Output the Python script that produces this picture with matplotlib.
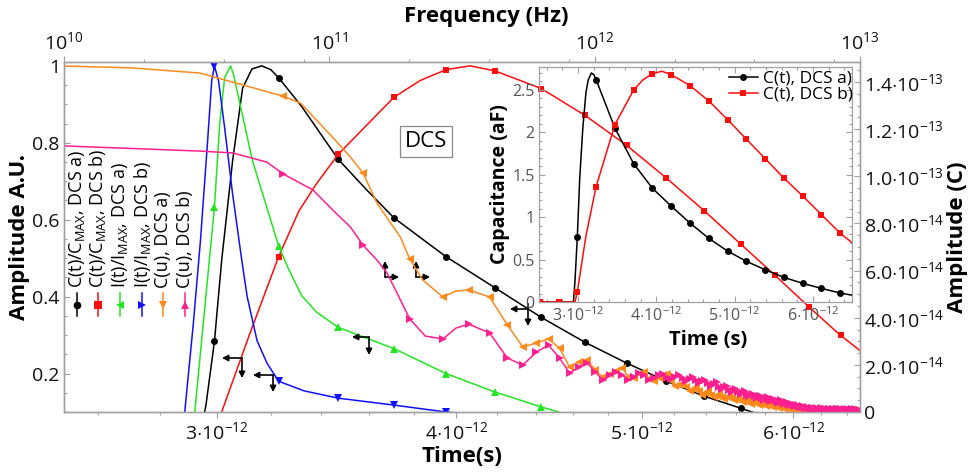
import numpy as np
import matplotlib
matplotlib.use('Agg')
import matplotlib.pyplot as plt
from matplotlib.ticker import FixedLocator, FixedFormatter, NullFormatter, MultipleLocator

# =========================================
# fonts
# =========================================
plt.rcParams['font.family'] = ['Open Sans', 'DejaVu Sans']
plt.rcParams['mathtext.fontset'] = 'custom'
plt.rcParams['mathtext.rm'] = 'Open Sans'
plt.rcParams['mathtext.it'] = 'Open Sans:italic'
plt.rcParams['mathtext.bf'] = 'Open Sans:bold'

# =========================================
# data (time in ps, freq in Hz, charge in 1e-14 C)
# =========================================

# sample times with markers
t_grid = [2.51, 2.75, 2.99, 3.23, 3.47, 3.71, 3.95, 4.19, 4.43, 4.67,
          4.91, 5.15, 5.39, 5.63, 5.87, 6.11, 6.35]

# C(t)/Cmax DCS a) (black)
blk_y = [0.0, 0.0, 0.284, 0.969, 0.757, 0.605, 0.504, 0.423, 0.346, 0.281,
         0.227, 0.18, 0.141, 0.11, 0.08, 0.06, 0.04]
blk_tx = [2.93, 2.96, 3.016, 3.056, 3.093, 3.128, 3.165, 3.20, 3.32, 3.59]
blk_yx = [0.0, 0.12, 0.494, 0.753, 0.942, 0.992, 1.0, 0.99, 0.895, 0.678]

# C(t)/Cmax DCS b) (red)
red_y = [0.0, 0.0, 0.03, 0.504, 0.77, 0.918, 0.99, 0.987, 0.941, 0.871,
         0.793, 0.708, 0.623, 0.537, 0.455, 0.374, 0.299]
red_tx = [2.97, 3.016, 3.118, 3.31, 3.38, 3.83, 4.066, 6.5]
red_yx = [0.0, 0.1, 0.30, 0.623, 0.693, 0.962, 1.0, 0.26]

# I(t)/Imax DCS a) (green)
grn_y = [0.0, 0.0, 0.633, 0.532, 0.32, 0.265, 0.2, 0.152, 0.113, 0.08]
grn_tx = [2.90, 2.92, 2.95, 3.009, 3.027, 3.049, 3.06, 3.13, 3.27, 3.32, 3.38]
grn_yx = [0.0, 0.1, 0.33, 0.85, 0.97, 1.0, 0.975, 0.753, 0.47, 0.403, 0.36]

# I(t)/Imax DCS b) (blue)
blu_y = [0.0, 0.0, 1.0, 0.18, 0.136, 0.118, 0.1, 0.09]
blu_tx = [2.86, 2.885, 2.915, 2.94, 2.965, 2.98, 3.005, 3.027, 3.056, 3.09,
          3.11, 3.147, 3.185, 3.33]
blu_yx = [0.0, 0.1, 0.33, 0.545, 0.8, 0.96, 0.96, 0.838, 0.667, 0.494,
          0.4, 0.286, 0.227, 0.155]

# spectrum samples, step 6.7e10 Hz
f_step = 6.7e10
orange_v = [13.4, 10.14, 6.49, 4.88, 5.18, 4.88, 3.69, 2.76, 2.93, 3.10,
            2.71, 1.91, 2.12, 2.20, 1.78, 1.48, 1.62, 1.72, 1.86, 1.50,
            1.45, 1.62, 1.70, 1.42, 1.30, 1.45, 1.58, 1.62, 1.30, 1.10,
            1.15, 1.22, 1.05, 0.90, 0.98, 1.05, 0.88, 0.74, 0.82, 0.88,
            0.74, 0.62, 0.70, 0.76, 0.64, 0.55, 0.62, 0.68, 0.58, 0.50,
            0.55, 0.60, 0.50, 0.42, 0.48, 0.52, 0.44, 0.36, 0.42, 0.46,
            0.38, 0.31, 0.36, 0.40, 0.32, 0.26, 0.30, 0.33, 0.27, 0.21,
            0.25, 0.28, 0.22, 0.17, 0.21, 0.23, 0.18, 0.13, 0.16, 0.18,
            0.14, 0.10, 0.13, 0.14, 0.11, 0.08, 0.10, 0.12, 0.09, 0.07,
            0.09, 0.10, 0.07, 0.05, 0.07, 0.09, 0.06, 0.05, 0.07, 0.08,
            0.06, 0.04, 0.06, 0.08, 0.05, 0.04, 0.06, 0.07, 0.05, 0.04,
            0.05, 0.07, 0.05, 0.03, 0.05, 0.06, 0.04, 0.03, 0.05, 0.06,
            0.04, 0.03, 0.05, 0.06, 0.04, 0.03, 0.04, 0.05, 0.04, 0.03,
            0.04, 0.05, 0.03, 0.02, 0.04, 0.05, 0.03, 0.02, 0.04, 0.05,
            0.03, 0.02, 0.03, 0.04, 0.03, 0.02, 0.03, 0.04, 0.03]
pink_v = [10.1, 7.08, 3.95, 3.10, 3.73, 3.35, 2.29, 1.99, 2.55, 2.84,
          2.29, 1.65, 1.91, 2.08, 1.70, 1.36, 1.57, 1.70, 1.57, 1.36,
          1.48, 1.65, 1.55, 1.36, 1.44, 1.55, 1.60, 1.45, 1.38, 1.50,
          1.56, 1.45, 1.32, 1.40, 1.48, 1.36, 1.24, 1.30, 1.36, 1.22,
          1.12, 1.20, 1.26, 1.08, 0.98, 1.05, 1.10, 0.94, 0.86, 0.92,
          0.98, 0.84, 0.76, 0.82, 0.88, 0.74, 0.66, 0.72, 0.78, 0.66,
          0.60, 0.66, 0.70, 0.60, 0.52, 0.58, 0.62, 0.52, 0.46, 0.52,
          0.56, 0.47, 0.40, 0.46, 0.49, 0.41, 0.35, 0.40, 0.43, 0.34,
          0.29, 0.34, 0.36, 0.29, 0.24, 0.28, 0.30, 0.24, 0.20, 0.23,
          0.25, 0.20, 0.16, 0.19, 0.21, 0.17, 0.13, 0.16, 0.18, 0.14,
          0.11, 0.14, 0.16, 0.12, 0.10, 0.13, 0.15, 0.11, 0.09, 0.12,
          0.14, 0.10, 0.09, 0.12, 0.13, 0.10, 0.08, 0.11, 0.13, 0.10,
          0.08, 0.11, 0.12, 0.09, 0.08, 0.11, 0.12, 0.09, 0.07, 0.10,
          0.12, 0.09, 0.07, 0.10, 0.11, 0.08, 0.07, 0.10, 0.11, 0.08,
          0.07, 0.09, 0.11, 0.08, 0.07, 0.09, 0.10, 0.08, 0.07]
orange_fx = [1e10, 1.8e10, 3.26e10, 7.8e10, 1.03e11, 1.2e11, 1.51e11, 1.85e11, 2.25e11, 3.0e11]
orange_vx = [14.68, 14.6, 14.38, 13.1, 11.65, 10.82, 8.87, 7.43, 5.6, 5.13]
pink_fx = [1e10, 3.26e10, 4.34e10, 5.82e10, 8.68e10, 1.03e11, 1.2e11, 1.51e11, 1.65e11, 2.3e11, 3.0e11]
pink_vx = [11.29, 11.07, 10.99, 10.6, 9.42, 8.57, 7.85, 6.45, 5.9, 3.22, 3.56]

# inset: capacitance in aF
in_blk = [0.0, 0.0, 0.77, 2.62, 2.05, 1.63, 1.34, 1.13, 0.93, 0.75,
          0.60, 0.48, 0.38, 0.29, 0.22, 0.16, 0.106]
in_blk_tx = [2.5, 2.94, 2.96, 3.02, 3.06, 3.10, 3.13, 3.17, 3.20, 6.5]
in_blk_yx = [0.0, 0.0, 0.25, 1.45, 2.05, 2.47, 2.62, 2.70, 2.68, 0.08]
in_red = [0.0, 0.0, 0.12, 1.36, 2.09, 2.5, 2.69, 2.68, 2.55, 2.37,
          2.15, 1.92, 1.69, 1.46, 1.25, 1.03, 0.81]
in_red_tx = [2.5, 2.96, 3.10, 3.83, 4.07, 6.5]
in_red_yx = [0.0, 0.0, 0.78, 2.62, 2.72, 0.70]

# ticks and labels
bot_ticks = [3, 4, 5, 6]
bot_labels = [r'$3{\cdot}10^{-12}$', r'$4{\cdot}10^{-12}$', r'$5{\cdot}10^{-12}$', r'$6{\cdot}10^{-12}$']
bot_minor = [2.6, 2.8, 3.2, 3.4, 3.6, 3.8, 4.2, 4.4, 4.6, 4.8,
             5.2, 5.4, 5.6, 5.8, 6.2, 6.4]
top_ticks = [1e10, 1e11, 1e12, 1e13]
top_labels = [r'$10^{10}$', r'$10^{11}$', r'$10^{12}$', r'$10^{13}$']
top_minor = [2e10, 4e10, 8e10, 2e11, 4e11, 8e11, 2e12, 4e12, 8e12]
left_ticks = [0.2, 0.4, 0.6, 0.8, 1.0]
left_labels = ['0.2', '0.4', '0.6', '0.8', '1']
right_ticks = [0, 2, 4, 6, 8, 10, 12, 14]
right_labels = ['0', r'$2.0{\cdot}10^{-14}$', r'$4.0{\cdot}10^{-14}$', r'$6.0{\cdot}10^{-14}$',
                r'$8.0{\cdot}10^{-14}$', r'$1.0{\cdot}10^{-13}$', r'$1.2{\cdot}10^{-13}$',
                r'$1.4{\cdot}10^{-13}$']
in_yticks = [0, 0.5, 1, 1.5, 2, 2.5]
in_ylabels = ['0', '0.5', '1', '1.5', '2', '2.5']

leg_labels = [r'C(t)/C$_{\mathrm{MAX}}$, DCS a)', r'C(t)/C$_{\mathrm{MAX}}$, DCS b)',
              r'I(t)/I$_{\mathrm{MAX}}$, DCS a)', r'I(t)/I$_{\mathrm{MAX}}$, DCS b)',
              'C(u), DCS a)', 'C(u), DCS b)']

# =========================================
# style
# =========================================
c_blk, c_red, c_grn, c_blu = '#000000', '#ff0d0d', '#22e622', '#1010ff'
c_org, c_pnk = '#ff8a1c', '#ff1f8f'
frame = '#a0a0a0'
lw = 1.1


def merge(t1, y1, t2, y2):
    t = np.concatenate([np.asarray(t1, float), np.asarray(t2, float)])
    y = np.concatenate([np.asarray(y1, float), np.asarray(y2, float)])
    o = np.argsort(t, kind='stable')
    return t[o], y[o]


def curve(axis, tm, ym, tx, yx, color, marker, ms):
    tl, yl = merge(tm, ym, tx, yx)
    axis.plot(tl, yl, color=color, lw=lw)
    axis.plot(tm, ym, ls='none', marker=marker, color=color, ms=ms, mew=0)


# =========================================
# figure
# =========================================
fig = plt.figure(figsize=(9.71, 4.72), dpi=100)
ax = fig.add_axes([64 / 971, 60 / 472, 796 / 971, 350 / 472])
ax_r = ax.twinx()
ax_f = ax_r.twiny()

# time domain curves
curve(ax, t_grid, blk_y, blk_tx, blk_yx, c_blk, 'o', 5)
curve(ax, t_grid, red_y, red_tx, red_yx, c_red, 's', 5)
curve(ax, t_grid[:len(grn_y)], grn_y, grn_tx, grn_yx, c_grn, '^', 5.5)
curve(ax, t_grid[:len(blu_y)], blu_y, blu_tx, blu_yx, c_blu, 'v', 5.5)

# frequency domain curves
freq = f_step * np.arange(1, len(orange_v) + 1)
curve(ax_f, freq, orange_v, orange_fx, orange_vx, c_org, '<', 5.5)
curve(ax_f, freq, pink_v, pink_fx, pink_vx, c_pnk, '>', 5.5)

# axes limits / scales
ax.set_xscale('log')
ax.set_xlim(2.495, 6.5)
ax.set_ylim(0.1, 1.01)
ax_f.set_xscale('log')
ax_f.set_xlim(1e10, 1e13)
ax_r.set_ylim(0, 14.85)

ax.xaxis.set_major_locator(FixedLocator(bot_ticks))
ax.xaxis.set_major_formatter(FixedFormatter(bot_labels))
ax.xaxis.set_minor_locator(FixedLocator(bot_minor))
ax.xaxis.set_minor_formatter(NullFormatter())
ax.yaxis.set_major_locator(FixedLocator(left_ticks))
ax.yaxis.set_major_formatter(FixedFormatter(left_labels))
ax.yaxis.set_minor_locator(MultipleLocator(0.05))

ax_f.xaxis.set_major_locator(FixedLocator(top_ticks))
ax_f.xaxis.set_major_formatter(FixedFormatter(top_labels))
ax_f.xaxis.set_minor_locator(FixedLocator(top_minor))
ax_f.xaxis.set_minor_formatter(NullFormatter())
ax_r.yaxis.set_major_locator(FixedLocator(right_ticks))
ax_r.yaxis.set_major_formatter(FixedFormatter(right_labels))
ax_r.yaxis.set_minor_locator(MultipleLocator(0.5))

ax.tick_params(axis='x', which='both', direction='out', colors=frame, labelcolor='#111', labelsize=14, pad=2)
ax.tick_params(axis='y', which='both', direction='in', colors=frame, labelcolor='#111', labelsize=14, pad=3)
ax_r.tick_params(axis='y', which='both', direction='in', colors=frame, labelcolor='#111', labelsize=14, pad=3)
ax_f.tick_params(axis='x', which='both', direction='out', colors=frame, labelcolor='#111', labelsize=14, pad=2)
for a in (ax, ax_r, ax_f):
    a.tick_params(which='major', length=4.5, width=0.8)
    a.tick_params(which='minor', length=2.5, width=0.8)
    for s in a.spines.values():
        s.set_color(frame)
        s.set_linewidth(0.9)

ax.set_xlabel('Time(s)', fontsize=16, fontweight='bold', labelpad=2)
ax.set_ylabel('Amplitude A.U.', fontsize=16, fontweight='bold', labelpad=2)
ax_r.set_ylabel('Amplitude (C)', fontsize=16, fontweight='bold', labelpad=2)
ax_f.set_xlabel('Frequency (Hz)', fontsize=16, fontweight='bold', labelpad=4)
ax_f.xaxis.set_label_coords(0.531, 1.115)

# DCS box
ax.text(0.4548, 0.773, 'DCS', transform=ax.transAxes, fontsize=16, ha='center', va='center',
        bbox=dict(boxstyle='square,pad=0.22', facecolor='white', edgecolor='#888888', lw=0.9))

# rotated legend
leg_x = [0.0163, 0.0427, 0.0704, 0.098, 0.1244, 0.1520]
leg_c = [c_blk, c_red, c_grn, c_blu, c_org, c_pnk]
leg_m = ['o', 's', '<', '>', 'v', '^']
for x, c, m, lab in zip(leg_x, leg_c, leg_m, leg_labels):
    ax.plot([x, x], [0.274, 0.34], transform=ax.transAxes, color=c, lw=lw, clip_on=False)
    ax.plot([x], [0.3057], transform=ax.transAxes, color=c, marker=m, ms=5.5, mew=0, clip_on=False)
    ax.text(x, 0.354, lab, transform=ax.transAxes, rotation=90, ha='center', va='bottom', fontsize=13)

# axis arrows (corner, end1, end2)
arrows = [((0.2236, 0.1543), (0.1985, 0.1543), (0.2236, 0.0971)),
          ((0.2626, 0.1057), (0.2374, 0.1057), (0.2626, 0.0571)),
          ((0.3832, 0.2143), (0.3618, 0.2143), (0.3832, 0.1629)),
          ((0.4033, 0.3857), (0.4033, 0.4314), (0.4209, 0.3857)),
          ((0.4422, 0.3857), (0.4422, 0.4314), (0.4598, 0.3857)),
          ((0.5829, 0.2943), (0.5603, 0.2943), (0.5829, 0.2457))]
for corner, e1, e2 in arrows:
    for e in (e1, e2):
        ax.annotate('', xy=e, xytext=corner, xycoords='axes fraction', textcoords='axes fraction',
                    arrowprops=dict(arrowstyle='-|>,head_length=0.35,head_width=0.18', color='black',
                                    lw=1.2, shrinkA=0, shrinkB=0))
ax.plot([0.5829, 0.5829], [0.2943, 0.309], transform=ax.transAxes, color='black', lw=1.2)

# =========================================
# inset
# =========================================
ax_in = fig.add_axes([539 / 971, 170 / 472, 313 / 971, 235 / 472])
ax_in.patch.set_alpha(0)
curve(ax_in, t_grid, in_blk, in_blk_tx, in_blk_yx, c_blk, 'o', 5)
curve(ax_in, t_grid, in_red, in_red_tx, in_red_yx, c_red, 's', 5)
ax_in.set_xlim(2.5, 6.5)
ax_in.set_ylim(0, 2.77)
ax_in.xaxis.set_major_locator(FixedLocator(bot_ticks))
ax_in.xaxis.set_major_formatter(FixedFormatter(bot_labels))
ax_in.xaxis.set_minor_locator(MultipleLocator(0.2))
ax_in.yaxis.set_major_locator(FixedLocator(in_yticks))
ax_in.yaxis.set_major_formatter(FixedFormatter(in_ylabels))
ax_in.yaxis.set_minor_locator(MultipleLocator(0.1))
ax_in.tick_params(which='both', direction='in', top=True, right=True, colors=frame,
                  labelcolor='#555555', labelsize=11.5, pad=3)
ax_in.tick_params(which='major', length=4, width=0.8)
ax_in.tick_params(which='minor', length=2, width=0.8)
for s in ax_in.spines.values():
    s.set_color(frame)
    s.set_linewidth(0.9)
ax_in.set_xlabel('Time (s)', fontsize=14.5, fontweight='bold', labelpad=1)
ax_in.xaxis.set_label_coords(0.54, -0.12)
ax_in.set_ylabel('Capacitance (aF)', fontsize=14, fontweight='bold', labelpad=2)

h1, = ax_in.plot([], [], color=c_blk, lw=lw, marker='o', ms=5, mew=0)
h2, = ax_in.plot([], [], color=c_red, lw=lw, marker='s', ms=5, mew=0)
ax_in.legend([h1, h2], ['C(t), DCS a)', 'C(t), DCS b)'], loc='upper right',
             bbox_to_anchor=(1.015, 1.0), frameon=False, fontsize=12.5, handlelength=1.7,
             handletextpad=0.3, labelspacing=0.0, borderpad=0.1, borderaxespad=0.1)

fig.savefig('out.png', dpi=100, facecolor='white')
